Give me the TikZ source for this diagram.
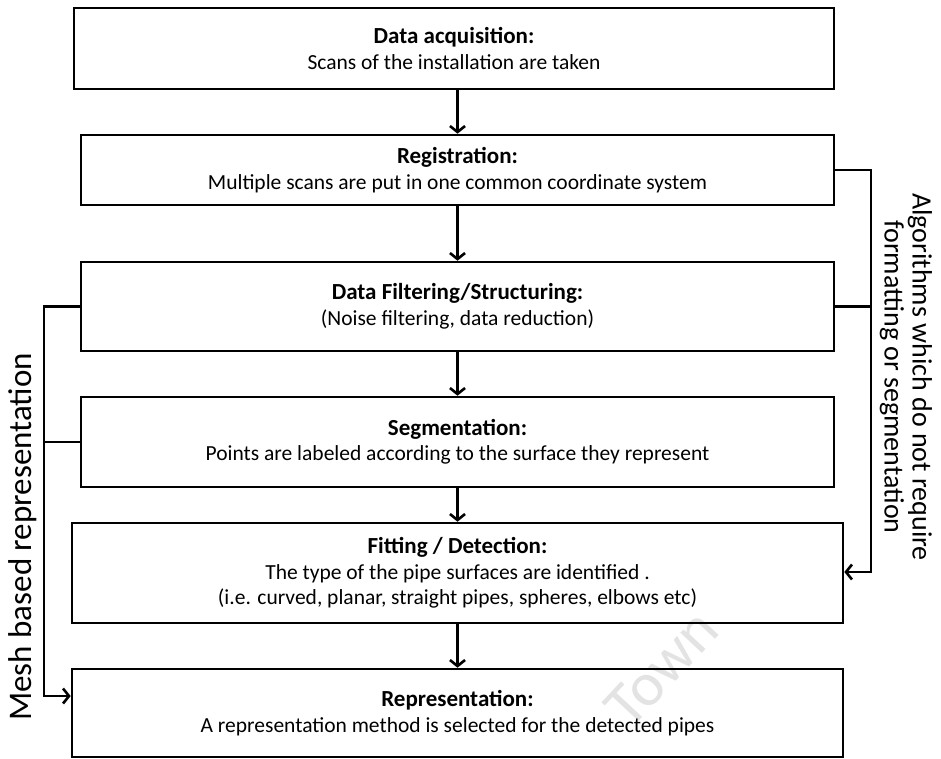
\documentclass[tikz,border=0pt]{standalone}
\usepackage{fontspec}
\setmainfont{Carlito}
\usetikzlibrary{arrows.meta,calc}

\newcommand{\stagehead}[1]{{\fontsize{23}{25.5}\selectfont\bfseries #1}}

\tikzset{
  stage/.style={draw=black, line width=2.6pt, rectangle, inner sep=0pt,
    align=center, font=\fontsize{21.5}{25.5}\selectfont},
  link/.style={draw=black, line width=2.6pt},
  arr/.style={link, -{Straight Barb[length=6pt,width=15pt]}},
  wmark/.style={text=black!11, font=\fontsize{62}{62}\selectfont, inner sep=0pt}
}

\begin{document}
\begin{tikzpicture}[x=1pt, y=-1pt]
  \useasboundingbox (0,0) rectangle (941,758);

  % faint background lettering
  \node[wmark, rotate=47] (wm) at (662,668) {Town};

  % processing stages
  \node[stage, minimum width=760pt, minimum height=81pt] (B1) at (454,48.5)
    {\stagehead{Data acquisition:}\\Scans of the installation are taken};
  \node[stage, minimum width=753pt, minimum height=70pt] (B2) at (457.5,170)
    {\stagehead{Registration:}\\Multiple scans are put in one common coordinate system};
  \node[stage, minimum width=753pt, minimum height=89pt] (B3) at (457.5,306.5)
    {\stagehead{Data Filtering/Structuring:}\\(Noise filtering, data reduction)};
  \node[stage, minimum width=753pt, minimum height=90pt] (B4) at (457.5,442)
    {\stagehead{Segmentation:}\\Points are labeled according to the surface they represent};
  \node[stage, minimum width=771pt, minimum height=100pt] (B5) at (457.5,573)
    {\stagehead{Fitting / Detection:}\\The type of the pipe surfaces are identified .\\(i.e. curved, planar, straight pipes, spheres, elbows etc)};
  \node[stage, minimum width=771pt, minimum height=88pt] (B6) at (457.5,713)
    {\stagehead{Representation:}\\A representation method is selected for the detected pipes};

  % main flow
  \draw[arr] (B2.north |- B1.south) -- (B2.north);
  \draw[arr] (B2.south) -- (B3.north);
  \draw[arr] (B3.south) -- (B4.north);
  \draw[arr] (B4.south) -- (B5.north);
  \draw[arr] (B5.south) -- (B6.north);

  % right-hand bypass
  \coordinate (rx) at (871,0);
  \coordinate (rin) at ($(B5.east)+(0,-1)$);
  \draw[link] (B3.east) -- (B3.east -| rx);
  \draw[arr] (B2.east) -- (B2.east -| rx) -- (rin -| rx) -- (rin);

  % left-hand bypass
  \coordinate (lx) at (44,0);
  \coordinate (lin) at ($(B6.west)+(0,-17)$);
  \draw[link] (B4.west) -- (B4.west -| lx);
  \draw[arr] (B3.west) -- (B3.west -| lx) -- (lin -| lx) -- (lin);

  % side labels
  \node[rotate=90, inner sep=0pt, font=\fontsize{33}{36}\selectfont] (lmesh) at (23,537)
    {Mesh based representation};
  \node[rotate=-90, inner sep=0pt, align=center, font=\fontsize{28}{28}\selectfont] (lalg) at (906,377)
    {Algorithms which do not require\\formatting or segmentation};
\end{tikzpicture}
\end{document}
